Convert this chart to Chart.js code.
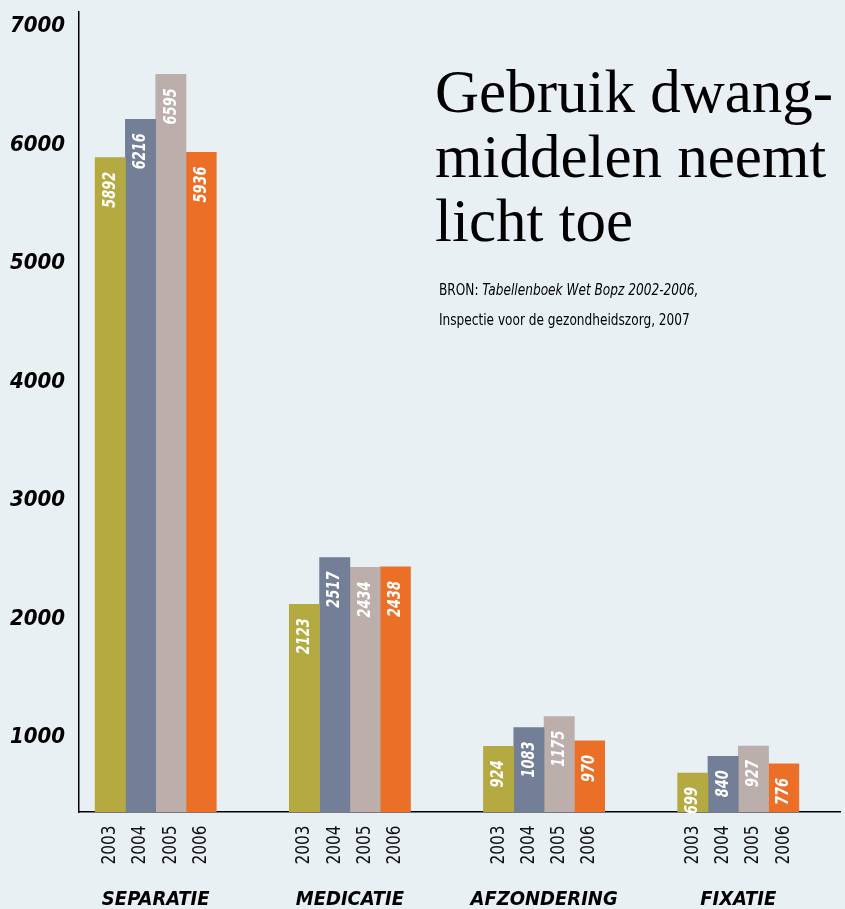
<!DOCTYPE html>
<html lang="nl">
<head>
    <meta charset="UTF-8">
    <title>Gebruik dwangmiddelen</title>
    <style>
        body { margin: 0; background: #e8f0f4; }
        #wrap { width: 845px; height: 909px; }
    </style>
</head>
<body>
    <div id="wrap">
        <canvas id="myChart"></canvas>
    </div>

    <script src="https://cdn.jsdelivr.net/npm/chart.js"></script>

    <script>
        // Categorieën en jaren
        const categories = ['SEPARATIE', 'MEDICATIE', 'AFZONDERING', 'FIXATIE'];
        const years = ['2003', '2004', '2005', '2006'];

        // Waarden per jaar (zelfde volgorde als categories)
        const values2003 = [5892, 2123, 924, 699];
        const values2004 = [6216, 2517, 1083, 840];
        const values2005 = [6595, 2434, 1175, 927];
        const values2006 = [5936, 2438, 970, 776];

        const yTicks = [1000, 2000, 3000, 4000, 5000, 6000, 7000];

        const yearColors = ['#b5aa42', '#737e97', '#bcaeaa', '#ec6f27'];
        const allValues = [values2003, values2004, values2005, values2006];

        const cond = '"DejaVu Sans Condensed", "Liberation Sans Narrow", sans-serif';
        const serif = '"Liberation Serif", "DejaVu Serif", serif';

        const datasets = years.map((y, k) => ({
            label: y,
            data: categories.map((c, i) => ({ x: i, y: allValues[k][i] })),
            backgroundColor: yearColors[k],
            borderWidth: 0,
            barThickness: 30.3
        }));

        // geen automatische marges rond de assen
        function noPad(s) {
            s.paddingTop = 0;
            s.paddingBottom = 0;
            s.paddingLeft = 0;
            s.paddingRight = 0;
        }

        // jaartallen onder de staven + waarden in de staven
        const barLabels = {
            id: 'barLabels',
            afterDatasetsDraw(chart) {
                const c = chart.ctx;
                chart.data.datasets.forEach((ds, k) => {
                    const meta = chart.getDatasetMeta(k);
                    meta.data.forEach((el, i) => {
                        // waarde, wit, gedraaid
                        c.save();
                        c.font = 'italic bold 18px ' + cond;
                        c.fillStyle = '#ffffff';
                        const txt = String(ds.data[i].y);
                        const len = c.measureText(txt).width * 0.8;
                        const h = el.base - el.y;
                        const off = Math.min(14, (h - len) / 2);
                        c.translate(el.x, el.y + off);
                        c.rotate(-Math.PI / 2);
                        c.scale(0.8, 1);
                        c.textAlign = 'right';
                        c.textBaseline = 'middle';
                        c.fillText(txt, 0, 0);
                        c.restore();

                        // jaartal onder de as
                        c.save();
                        c.font = '19px ' + cond;
                        c.fillStyle = '#111111';
                        c.translate(el.x, 845);
                        c.rotate(-Math.PI / 2);
                        c.scale(0.9, 1);
                        c.textAlign = 'center';
                        c.textBaseline = 'middle';
                        c.fillText(years[k], 0, 0);
                        c.restore();
                    });
                });
            }
        };

        // titel en bron
        const titleText = {
            id: 'titleText',
            afterDraw(chart) {
                const c = chart.ctx;
                c.save();
                c.fillStyle = '#000000';
                c.textAlign = 'left';
                c.textBaseline = 'alphabetic';
                c.font = '61px ' + serif;
                c.fillText('Gebruik dwang-', 435, 112);
                c.fillText('middelen neemt', 435, 177);
                c.fillText('licht toe', 435, 241);

                c.translate(439, 0);
                c.scale(0.9, 1);
                c.font = '15px ' + cond;
                c.fillText('BRON: ', 0, 295);
                const w = c.measureText('BRON: ').width;
                c.font = 'italic 15px ' + cond;
                c.fillText('Tabellenboek Wet Bopz 2002-2006,', w, 295);
                c.font = '15px ' + cond;
                c.fillText('Inspectie voor de gezondheidszorg, 2007', 0, 325);
                c.restore();
            }
        };

        new Chart(document.getElementById('myChart'), {
            type: 'bar',
            data: { datasets },
            options: {
                responsive: true,
                maintainAspectRatio: false,
                animation: false,
                layout: { autoPadding: false, padding: { top: 12, right: 5, left: 0, bottom: 0 } },
                plugins: {
                    legend: { display: false },
                    tooltip: { enabled: false }
                },
                scales: {
                    x: {
                        type: 'linear',
                        offset: false,
                        min: -0.395,
                        max: 3.524,
                        afterBuildTicks: s => { s.ticks = categories.map((c, i) => ({ value: i })); },
                        afterFit: s => { s.height = 97; noPad(s); },
                        grid: { display: false, drawTicks: false },
                        border: { display: true, color: '#000000', width: 1.5 },
                        ticks: {
                            autoSkip: false,
                            maxRotation: 0,
                            padding: 76,
                            color: '#000000',
                            font: { family: cond, size: 20, weight: 'bold', style: 'italic' },
                            callback: v => categories[v]
                        }
                    },
                    y: {
                        min: 370,
                        max: 7121,
                        afterBuildTicks: s => { s.ticks = yTicks.map(v => ({ value: v })); },
                        afterFit: s => { s.width = 79; noPad(s); },
                        grid: { display: false, drawTicks: false },
                        border: { display: true, color: '#000000', width: 1.5 },
                        ticks: {
                            padding: 14,
                            color: '#000000',
                            font: { family: cond, size: 22, weight: 'bold', style: 'italic' },
                            callback: v => String(v)
                        }
                    }
                }
            },
            plugins: [barLabels, titleText]
        });
    </script>
</body>
</html>
